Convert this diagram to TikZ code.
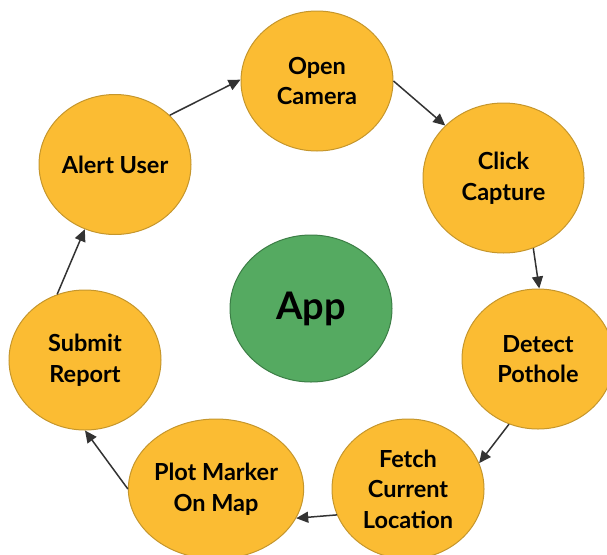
\documentclass[tikz,border=0pt]{standalone}
\usepackage{fontspec}
\setmainfont{Lato}
\usetikzlibrary{shapes.geometric,arrows.meta}
\definecolor{stepfill}{HTML}{FBBC33}
\definecolor{stepedge}{HTML}{C5962C}
\definecolor{appfill}{HTML}{55AA61}
\definecolor{appedge}{HTML}{3C7E46}
\definecolor{arrowc}{HTML}{333333}
\begin{document}
\begin{tikzpicture}[x=1pt,y=-1pt,
  stepnode/.style={ellipse, draw=stepedge, fill=stepfill, line width=1pt,
    inner sep=0pt, minimum width=152pt, minimum height=140pt, align=center,
    font=\bfseries\fontsize{23.5}{30.5}\selectfont},
  appnode/.style={ellipse, draw=appedge, fill=appfill, line width=1pt,
    inner sep=0pt, minimum width=162pt, minimum height=147pt,
    font=\bfseries\fontsize{38}{44}\selectfont},
  flow/.style={draw=arrowc, line width=1.5pt, -{Triangle[length=12pt,width=11pt]}}]
\useasboundingbox (0,0) rectangle (607,554);
\node[stepnode] (open) at (317,81) {Open\\Camera};
\node[stepnode, minimum width=161pt, minimum height=150pt] (click) at (503.5,178) {Click\\Capture};
\node[stepnode] (detect) at (538,359) {Detect\\Pothole};
\node[stepnode] (fetch) at (408,489) {Fetch\\Current\\Location};
\node[stepnode] (plot) at (216,489) {Plot Marker\\On Map};
\node[stepnode] (submit) at (85,360) {Submit\\Report};
\node[stepnode] (alert) at (115,164.5) {Alert User};
\node[appnode] (app) at (311,308.5) {App};
\draw[flow] (alert.42.5) -- (open.179);
\draw[flow] (open.0) -- (click.138);
\draw[flow] (click.-67) -- (detect.89);
\draw[flow] (detect.246) -- (fetch.20);
\draw[flow] (fetch.200.5) -- (plot.-20.5);
\draw[flow] (plot.180) -- (submit.-90);
\draw[flow] (submit.113) -- (alert.245);
\end{tikzpicture}
\end{document}
